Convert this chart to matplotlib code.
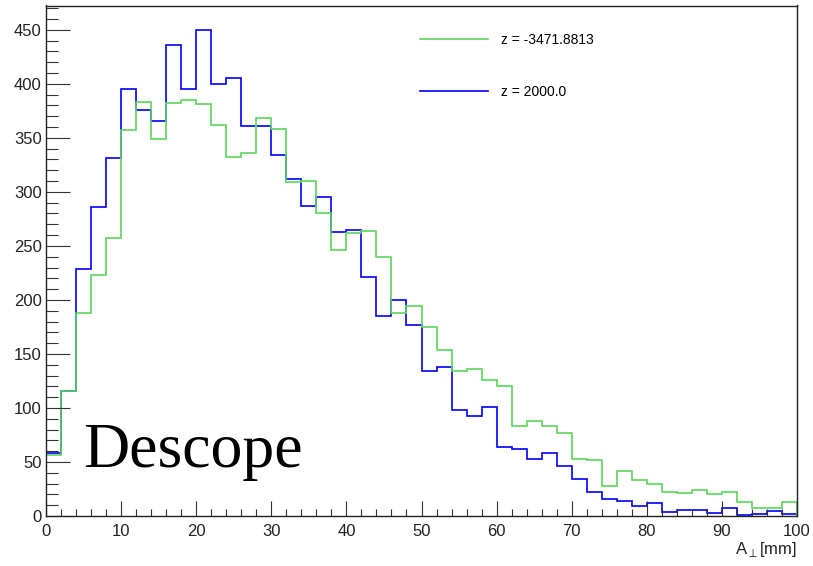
import numpy as np
import matplotlib
matplotlib.use("Agg")
import matplotlib.pyplot as plt
from matplotlib.ticker import MultipleLocator

edges = np.arange(0, 101, 2)
green_vals = [56, 116, 188, 223, 257, 357, 383, 349, 382, 385,
              381, 362, 332, 336, 368, 358, 309, 310, 280, 246,
              262, 264, 240, 188, 194, 175, 154, 134, 136, 126,
              120, 83, 88, 83, 77, 53, 52, 28, 42, 33,
              30, 22, 21, 24, 20, 22, 13, 7, 7, 13]
blue_vals = [58, 116, 229, 286, 331, 395, 376, 366, 436, 395,
             450, 400, 405, 361, 361, 334, 312, 287, 295, 263,
             265, 221, 185, 200, 177, 134, 138, 98, 93, 101,
             64, 62, 53, 58, 46, 34, 22, 16, 14, 9,
             12, 4, 6, 6, 3, 7, 1, 2, 5, 2]
labels = ["z = -3471.8813", "z = 2000.0"]

plt.rcParams['font.family'] = ['Liberation Sans', 'DejaVu Sans']
plt.rcParams['mathtext.fontset'] = 'dejavusans'

fig = plt.figure(figsize=(8.13, 5.66), dpi=100)
ax = fig.add_axes([46/813, 50/566, 751/813, 510.5/566])

hb = ax.stairs(blue_vals, edges, color='#0000ff', linewidth=1.2, baseline=0)
hg = ax.stairs(green_vals, edges, color='#5cd65c', linewidth=1.2, baseline=0)

ax.set_xlim(0, 100)
ax.set_ylim(0, 472.5)

ax.xaxis.set_major_locator(MultipleLocator(10))
ax.xaxis.set_minor_locator(MultipleLocator(2))
ax.yaxis.set_major_locator(MultipleLocator(50))
ax.yaxis.set_minor_locator(MultipleLocator(10))

ax.tick_params(axis='x', which='major', direction='in', length=10.8, width=0.8,
               color='#333333', labelsize=12, pad=6, labelcolor='#222222')
ax.tick_params(axis='x', which='minor', direction='in', length=5.4, width=0.8, color='#333333')
ax.tick_params(axis='y', which='major', direction='in', length=17.3, width=0.8,
               color='#333333', labelsize=12, pad=3, labelcolor='#222222')
ax.tick_params(axis='y', which='minor', direction='in', length=8.6, width=0.8, color='#333333')
ax.tick_params(top=False, right=False, which='both')

for s in ax.spines.values():
    s.set_linewidth(1.0)
    s.set_color('#222222')

# axis title at right end
ax.text(1.0, -0.066, r"A$_{\perp}$[mm]", transform=ax.transAxes, ha='right', va='center',
        fontsize=12, color='#222222')

ax.text(0.050, 0.096, "Descope", transform=ax.transAxes, ha='left', va='baseline',
        fontsize=46, family=['Liberation Serif', 'DejaVu Serif'], color='black')

leg = ax.legend([hg, hb], labels, loc='upper left', bbox_to_anchor=(0.498, 0.947),
                frameon=False, fontsize=10, handlelength=4.9, handletextpad=0.9,
                labelspacing=2.75, borderpad=0, borderaxespad=0)

fig.savefig("out.png", dpi=100)
